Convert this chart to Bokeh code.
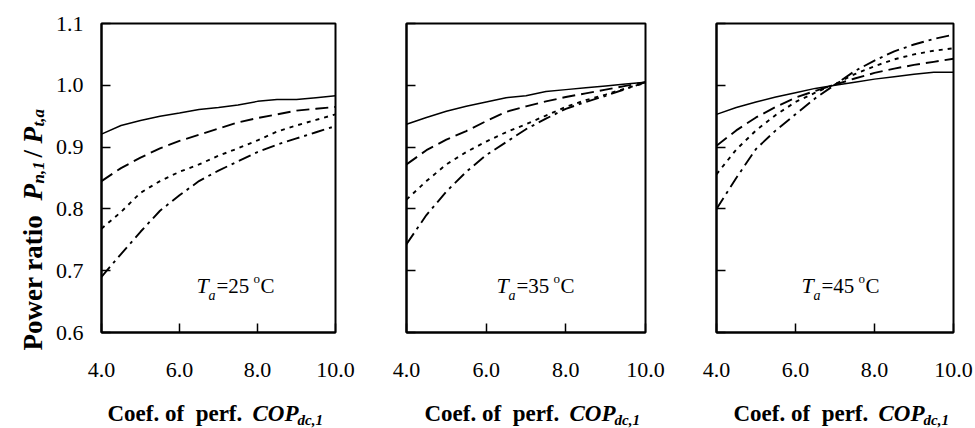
import math
from bokeh.plotting import figure
from bokeh.layouts import row, column
from bokeh.models import Range1d, FixedTicker, PrintfTickFormatter, CustomJSTickFormatter, Label
from bokeh.embed import file_html
from bokeh.resources import INLINE

# ---------------- data ----------------
cop = [4.0, 4.5, 5.0, 5.5, 6.0, 6.5, 7.0, 7.5, 8.0, 8.5, 9.0, 9.5, 10.0]

# Ta = 25 C
t25_solid = [0.921, 0.935, 0.943, 0.950, 0.955, 0.961, 0.964, 0.968, 0.974, 0.977, 0.977, 0.980, 0.983]
t25_dash = [0.845, 0.866, 0.883, 0.898, 0.910, 0.920, 0.930, 0.940, 0.947, 0.953, 0.959, 0.962, 0.965]
t25_dot = [0.768, 0.795, 0.826, 0.845, 0.860, 0.872, 0.886, 0.898, 0.911, 0.925, 0.935, 0.944, 0.953]
t25_dashdot = [0.690, 0.727, 0.763, 0.797, 0.822, 0.845, 0.862, 0.877, 0.892, 0.904, 0.914, 0.924, 0.934]

# Ta = 35 C
t35_solid = [0.937, 0.948, 0.958, 0.966, 0.973, 0.980, 0.983, 0.990, 0.993, 0.996, 0.999, 1.002, 1.005]
t35_dash = [0.872, 0.895, 0.912, 0.926, 0.942, 0.957, 0.966, 0.974, 0.981, 0.987, 0.993, 0.999, 1.005]
t35_dot = [0.815, 0.845, 0.872, 0.892, 0.909, 0.924, 0.937, 0.951, 0.965, 0.976, 0.985, 0.995, 1.004]
t35_dashdot = [0.743, 0.790, 0.828, 0.860, 0.887, 0.908, 0.929, 0.946, 0.962, 0.973, 0.983, 0.994, 1.005]

# Ta = 45 C
t45_solid = [0.953, 0.964, 0.973, 0.981, 0.988, 0.995, 1.000, 1.005, 1.010, 1.014, 1.018, 1.021, 1.021]
t45_dash = [0.902, 0.927, 0.948, 0.965, 0.980, 0.991, 1.001, 1.011, 1.020, 1.027, 1.033, 1.038, 1.043]
t45_dot = [0.856, 0.896, 0.927, 0.952, 0.973, 0.988, 1.002, 1.018, 1.031, 1.042, 1.050, 1.056, 1.060]
t45_dashdot = [0.800, 0.850, 0.897, 0.927, 0.953, 0.979, 1.001, 1.023, 1.040, 1.055, 1.066, 1.075, 1.082]

temps = ["25", "35", "45"]
x_ticks = [4.0, 6.0, 8.0, 10.0]
y_ticks = [0.6, 0.7, 0.8, 0.9, 1.0, 1.1]

SERIF = "Liberation Serif"

# line styles: (dash, width)
styles = [("solid", 1.5), ("13 6", 1.9), ("4 5", 1.9), ("13 5 3 5", 1.9)]


def lab(p, x, y, text, size, style="normal", angle=0.0):
    p.add_layout(Label(x=x, y=y, x_units="screen", y_units="screen", text=text,
                       text_font=SERIF, text_font_size=f"{size}px", text_font_style=style,
                       text_color="black", text_align="left", text_baseline="alphabetic",
                       angle=angle))


def blank(width, height):
    f = figure(width=width, height=height, x_range=Range1d(0, 1), y_range=Range1d(0, 1),
               output_backend="svg", toolbar_location=None, min_border=0,
               x_axis_type=None, y_axis_type=None)
    f.grid.visible = False
    f.outline_line_color = None
    f.background_fill_color = "white"
    f.border_fill_color = "white"
    return f


def make_panel(series, temp, width, bl, br, t_dx, show_ylabels):
    p = figure(width=width, height=388, x_range=Range1d(4.0, 10.0), y_range=Range1d(0.6, 1.1),
               output_backend="svg", toolbar_location=None,
               min_border_left=bl, min_border_right=br, min_border_top=23, min_border_bottom=56)
    p.grid.visible = False
    p.outline_line_color = "black"
    p.outline_line_width = 2
    p.background_fill_color = "white"
    p.border_fill_color = "white"

    xa = p.xaxis[0]
    xa.ticker = FixedTicker(ticks=x_ticks)
    xa.formatter = PrintfTickFormatter(format="%.1f")
    ya = p.yaxis[0]
    ya.ticker = FixedTicker(ticks=y_ticks)
    if show_ylabels:
        ya.formatter = PrintfTickFormatter(format="%.1f")
    else:
        ya.formatter = CustomJSTickFormatter(code="return ''")
    for ax in (xa, ya):
        ax.axis_line_width = 2
        ax.axis_line_color = "black"
        ax.major_tick_in = 9
        ax.major_tick_out = 0
        ax.major_tick_line_width = 1.5
        ax.major_tick_line_color = "black"
        ax.minor_tick_line_color = None
        ax.major_label_text_font = SERIF
        ax.major_label_text_font_size = "22px"
        ax.major_label_text_color = "black"
    xa.major_label_standoff = 30
    ya.major_label_standoff = 18

    for ys, (dash, w) in zip(series, styles):
        p.line(cop, ys, line_color="black", line_width=w, line_dash=dash)

    # annotation T_a = xx °C
    lab(p, t_dx, 47, "T", 22, "italic")
    lab(p, t_dx + 12, 37, "a", 14, "italic")
    lab(p, t_dx + 20, 47, "=" + temp, 21)
    lab(p, t_dx + 57, 54, "o", 13)
    lab(p, t_dx + 64, 47, "C", 21)
    return p


YW = 52  # width of the strip that holds the y-axis title

p1 = make_panel([t25_solid, t25_dash, t25_dot, t25_dashdot], temps[0], 100 - YW + 235 + 35, 100 - YW, 35, 95, True)
p2 = make_panel([t35_solid, t35_dash, t35_dot, t35_dashdot], temps[1], 310, 36, 35, 90, False)
p3 = make_panel([t45_solid, t45_dash, t45_dot, t45_dashdot], temps[2], 295, 36, 22, 85, False)

# y-axis title (rotated) in its own strip on the left
ylab = blank(YW, 428)
A = math.pi / 2
lab(ylab, 32, 78, "Power ratio", 27, "bold", A)
lab(ylab, 32, 228, "P", 27, "bold italic", A)
lab(ylab, 38, 245, "n,1", 17, "bold italic", A)
lab(ylab, 32, 271, "/", 27, "bold", A)
lab(ylab, 32, 285, "P", 27, "bold italic", A)
lab(ylab, 38, 302, "t,a", 17, "bold italic", A)

# x-axis titles in a strip below the panels
xlab = blank(975 - YW, 40)
for frame_left, dx in ((100, 7), (406, 18), (716, 17)):
    start = frame_left + dx - YW
    lab(xlab, start, 15, "Coef. of\u00a0 perf.", 23, "bold")
    lab(xlab, start + 145, 15, "COP", 23, "bold italic")
    lab(xlab, start + 190, 9, "dc,1", 15, "bold italic")

layout = row(ylab, column(row(p1, p2, p3), xlab))
open("out.html", "w").write(file_html(layout, INLINE))
